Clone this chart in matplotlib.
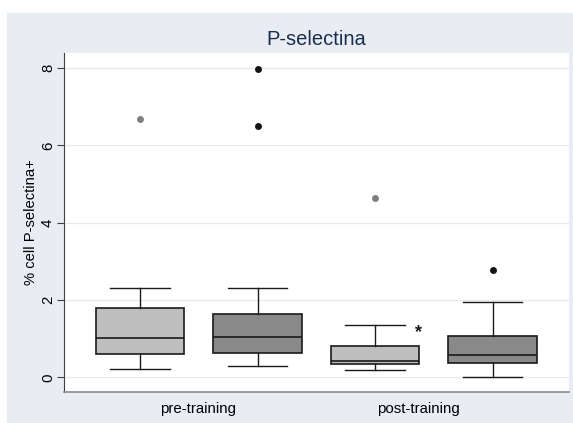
import matplotlib
matplotlib.use('Agg')
import matplotlib.pyplot as plt
from matplotlib.patches import Rectangle

plt.rcParams['font.family'] = ['Liberation Sans', 'DejaVu Sans']

groups = ['pre-training', 'post-training']
medians = [1.01, 1.04, 0.42, 0.585]
q1 = [0.595, 0.63, 0.34, 0.36]
q3 = [1.785, 1.63, 0.81, 1.08]
whis_lo = [0.207, 0.30, 0.197, 0.015]
whis_hi = [2.31, 2.32, 1.345, 1.96]
outliers = [[6.67], [7.98, 6.51], [4.65], [2.78]]
yticks = [0, 2, 4, 6, 8]

box_colors = ['#bebebe', '#898989', '#bebebe', '#898989']
flier_colors = ['#7f7f7f', '#141414', '#7f7f7f', '#141414']

fig = plt.figure(figsize=(5.73, 4.23), dpi=100)
# stata-like graph region, white strip on top and left
bg = Rectangle((7 / 573, 0), 1, (423 - 13) / 423,
               transform=fig.transFigure, color='#e9edf3', zorder=-10)
fig.patches.append(bg)
ax = fig.add_axes([64 / 573, 1 - 392 / 423, (569 - 64) / 573, (392 - 53) / 423])
ax.set_facecolor('white')

stats = []
for i in range(4):
    stats.append(dict(med=medians[i], q1=q1[i], q3=q3[i],
                      whislo=whis_lo[i], whishi=whis_hi[i], fliers=outliers[i]))

pos = [1, 2, 3, 4]
bp = ax.bxp(stats, positions=pos, widths=0.75, capwidths=0.51, patch_artist=True,
            showfliers=False,
            boxprops=dict(edgecolor='#1a1a1a', linewidth=1.2),
            medianprops=dict(color='#1a1a1a', linewidth=1.2),
            whiskerprops=dict(color='#1a1a1a', linewidth=1.0),
            capprops=dict(color='#1a1a1a', linewidth=1.0))
for patch, c in zip(bp['boxes'], box_colors):
    patch.set_facecolor(c)

for i in range(4):
    ax.plot([pos[i]] * len(outliers[i]), outliers[i], 'o', color=flier_colors[i],
            markersize=5, markeredgewidth=0)

ax.text(3.374, 1.15, '*', fontsize=13, fontweight='bold', ha='center', va='center',
        color='#1a1a1a')

ax.set_xlim(0.353, 4.651)
ax.set_ylim(-0.38, 8.39)
ax.set_yticks(yticks)
ax.set_yticklabels([str(t) for t in yticks], rotation=90, va='center')
ax.set_xticks([1.494, 3.366])
ax.set_xticklabels(groups)
ax.tick_params(axis='x', length=0, pad=7, labelsize=10.8)
ax.tick_params(axis='y', length=5, width=0.8, color='#404040', pad=1.5, labelsize=10.8)
ax.grid(axis='y', color='#e6ebf1', linewidth=1)
ax.set_axisbelow(True)

for s in ['top', 'right']:
    ax.spines[s].set_visible(False)
ax.spines['left'].set_color('#404040')
ax.spines['bottom'].set_color('#8a8a8a')
ax.spines['bottom'].set_linewidth(1.2)

ax.set_ylabel('% cell P-selectina+', fontsize=10.6, labelpad=2)
ax.set_title('P-selectina', fontsize=14.5, color='#1a2e50', pad=6)

plt.savefig('out.png', dpi=100)
